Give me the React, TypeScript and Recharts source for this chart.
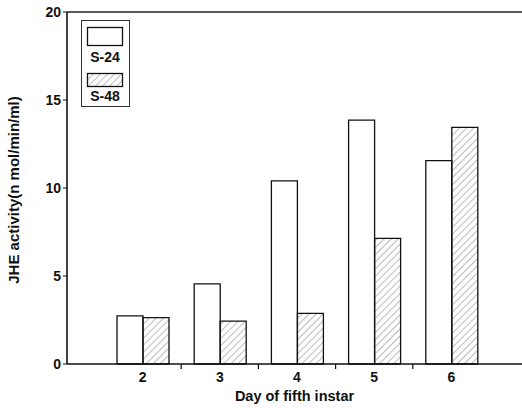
import React from 'react';
import { BarChart, Bar, XAxis, YAxis, ReferenceLine } from 'recharts';

const days = ['2', '3', '4', '5', '6'];
const s24 = [2.74, 4.55, 10.41, 13.86, 11.55];
const s48 = [2.63, 2.44, 2.88, 7.14, 13.45];
const yTicks = [0, 5, 10, 15, 20];
const seriesNames = ['S-24', 'S-48'];

const data = days.map((d, i) => ({ day: d, s24: s24[i], s48: s48[i] }));

const FONT = '"Liberation Sans", Arial, sans-serif';

const XTick = (props: any) => {
  const { x, y, payload, index } = props;
  const off = payload && payload.offset ? payload.offset : 0;
  return (
    <g>
      <text x={x} y={y + 10} textAnchor="middle" fontFamily={FONT} fontSize={14} fontWeight="bold" fill="#111">
        {payload.value}
      </text>
      {index < days.length - 1 && (
        <line x1={x + off} x2={x + off} y1={y - 8} y2={y - 3} stroke="#111" strokeWidth={1.2} />
      )}
    </g>
  );
};

const LegendBox = () => (
  <div style={{ position: 'absolute', left: 81, top: 20, border: '1px solid #333', width: 49, height: 87, boxSizing: 'border-box' }}>
    <svg width={47} height={85} style={{ display: 'block' }}>
      <defs>
        <pattern id="hatchL" patternUnits="userSpaceOnUse" width="5" height="5" patternTransform="rotate(45)">
          <line x1="0" y1="0" x2="0" y2="5" stroke="#777" strokeWidth="1" />
        </pattern>
      </defs>
      <rect x={5.5} y={6.5} width={35} height={18} fill="#fff" stroke="#111" strokeWidth={1.3} />
      <text x={23} y={41} textAnchor="middle" fontFamily={FONT} fontWeight="bold" fontSize={14} fill="#111">{seriesNames[0]}</text>
      <rect x={5.5} y={52.5} width={35} height={13} fill="url(#hatchL)" stroke="#111" strokeWidth={1.3} />
      <text x={23} y={80} textAnchor="middle" fontFamily={FONT} fontWeight="bold" fontSize={14} fill="#111">{seriesNames[1]}</text>
    </svg>
  </div>
);

export default function App() {
  return (
    <div style={{ position: 'absolute', left: 0, top: 0, width: 522, height: 408, background: '#fff' }}>
      <BarChart
        width={522}
        height={408}
        data={data}
        margin={{ top: 12, right: 0, left: 0, bottom: 14 }}
        barCategoryGap={13}
        barGap={0}
      >
        <defs>
          <pattern id="hatch" patternUnits="userSpaceOnUse" width="5" height="5" patternTransform="rotate(45)">
            <line x1="0" y1="0" x2="0" y2="5" stroke="#777" strokeWidth="1" />
          </pattern>
        </defs>
        <XAxis
          dataKey="day"
          height={30}
          padding={{ left: 37, right: 32 }}
          tickLine={false}
          axisLine={{ stroke: '#111', strokeWidth: 1.4 }}
          tick={<XTick />}
          interval={0}
          label={{ value: 'Day of fifth instar', position: 'insideBottom', offset: -7, style: { fontFamily: FONT, fontSize: 14.5, fontWeight: 'bold', fill: '#111' } }}
        />
        <YAxis
          width={67}
          domain={[0, 20]}
          ticks={yTicks}
          interval={0}
          tickSize={4}
          tickLine={{ stroke: '#111' }}
          axisLine={{ stroke: '#111', strokeWidth: 1.6 }}
          tick={{ fontFamily: FONT, fontSize: 14, fontWeight: 'bold', fill: '#111' }}
          label={{ value: 'JHE activity(n mol/min/ml)', angle: -90, position: 'insideLeft', offset: 14, dy: 2, style: { textAnchor: 'middle', fontFamily: FONT, fontSize: 15, fontWeight: 'bold', fill: '#111' } }}
        />
        <ReferenceLine y={20} stroke="#222" strokeWidth={1.3} />
        <Bar dataKey="s24" name={seriesNames[0]} fill="#fff" stroke="#111" strokeWidth={1.3} isAnimationActive={false} />
        <Bar dataKey="s48" name={seriesNames[1]} fill="url(#hatch)" stroke="#111" strokeWidth={1.3} isAnimationActive={false} />
      </BarChart>
      <LegendBox />
    </div>
  );
}
